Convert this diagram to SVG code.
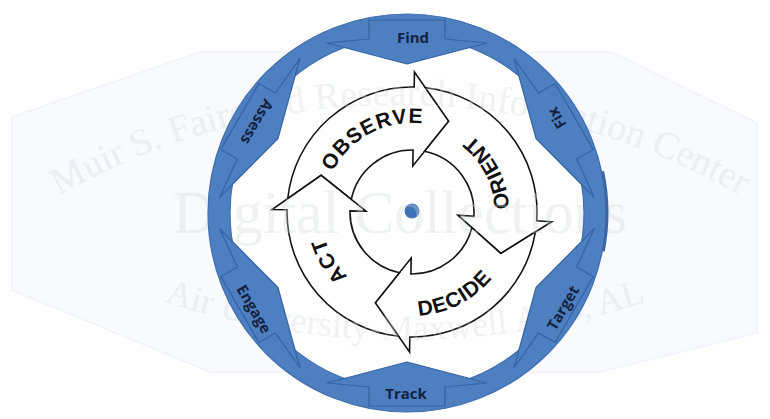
<svg xmlns="http://www.w3.org/2000/svg" width="770" height="419" viewBox="0 0 770 419">
<style>
.wm{font-family:"Liberation Serif","Times New Roman",serif;fill:#d3d7dc;opacity:.33}
.ring{fill:#4d7fc1;stroke:#3f6fb0;stroke-width:1.2}
.tab{fill:#4d7fc1;stroke:#3564a3;stroke-width:1.2;stroke-linejoin:round}
.lbl{font-family:"Open Sans","Liberation Sans",sans-serif;font-weight:700;font-size:15px;fill:#14223d;text-anchor:middle}
.arr{fill:#fff;stroke:#141414;stroke-width:1.6;stroke-linejoin:miter}
.ooda{font-family:"Liberation Sans",Arial,sans-serif;font-weight:700;font-size:21px;fill:#111;letter-spacing:1px}
</style>
<defs>
<polygon id="tabShape" points="-38,-193 38,-193 38,-174 80,-170 0,-149 -80,-170 -38,-174"/>
<path id="pObserve" d="M 329.48,178.66 A 89 89 0 0 1 430.50,124.94"/>
<path id="pOrient" d="M 506.70,233.00 A 97 97 0 0 0 449.12,122.38"/>
<path id="pDecide" d="M 389.14,313.46 A 104 104 0 0 0 507.94,252.13"/>
<path id="pAct" d="M 367.19,291.20 A 91 91 0 0 1 321.00,212.79"/>
<path id="pWmTop" d="M 60,195 A 687 687 0 0 1 740,195"/>
<path id="pWmBot" d="M 160,300 A 770 770 0 0 0 650,300"/>
</defs>
<rect width="770" height="419" fill="#ffffff"/>
<polygon points="12,117 200,52 612,52 757,123 757,333 600,372 210,372 12,290" fill="#f8fafd" stroke="#f0f4fa" stroke-width="1.5"/>
<circle cx="407" cy="213" r="178" fill="#ffffff"/>

<g id="ooda">
<g id="observe">
<path class="arr" d="M 287.72,198.61 A 125 125 0 0 1 414.18,87.02 L 414.44,72.02 L 448.71,121.14 L 412.80,166.01 L 413.08,150.01 A 62 62 0 0 0 351.29,199.43 L 321.14,175.29 Z"/>
<text class="ooda"><textPath href="#pObserve" startOffset="50%" text-anchor="middle">OBSERVE</textPath></text>
</g>
<g id="orient">
<path class="arr" d="M 425.39,87.72 A 125 125 0 0 1 536.70,220.72 L 551.66,221.77 L 500.82,253.42 L 457.89,215.21 L 473.85,216.32 A 62 62 0 0 0 424.57,151.29 L 448.71,121.14 Z"/>
<text class="ooda"><textPath href="#pOrient" startOffset="50%" text-anchor="middle">ORIENT</textPath></text>
</g>
<g id="decide">
<path class="arr" d="M 535.41,231.88 A 125 125 0 0 1 409.82,336.98 L 409.56,351.98 L 375.29,302.86 L 411.20,257.99 L 410.92,273.99 A 62 62 0 0 0 471.97,227.73 L 500.82,253.42 Z"/>
<text class="ooda"><textPath href="#pDecide" startOffset="50%" text-anchor="middle">DECIDE</textPath></text>
</g>
<g id="act">
<path class="arr" d="M 398.61,336.28 A 125 125 0 0 1 287.02,209.82 L 272.02,209.56 L 321.14,175.29 L 366.01,211.20 L 350.01,210.92 A 62 62 0 0 0 399.43,272.71 L 375.29,302.86 Z"/>
<text class="ooda"><textPath href="#pAct" startOffset="50%" text-anchor="middle">ACT</textPath></text>
</g>
<circle id="hub" cx="412" cy="211" r="7.5" fill="#3f73b8"/>
</g>

<g id="watermark">
<text class="wm" font-size="38"><textPath href="#pWmTop" startOffset="50%" text-anchor="middle">Muir S. Fairchild Research Information Center</textPath></text>
<text class="wm" x="400" y="233" font-size="62" text-anchor="middle" textLength="454" lengthAdjust="spacingAndGlyphs">Digital Collections</text>
<text class="wm" font-size="36"><textPath href="#pWmBot" startOffset="50%" text-anchor="middle">Air University-Maxwell AFB, AL</textPath></text>
</g>

<g id="ring">
<path class="ring" fill-rule="evenodd" d="M 208,213 A 199 199 0 1 0 606,213 A 199 199 0 1 0 208,213 Z M 230,213 A 177 177 0 1 1 584,213 A 177 177 0 1 1 230,213 Z"/>
<path d="M 602.6,171.4 A 200 200 0 0 1 603.3,251.2" fill="none" stroke="#3a67a3" stroke-width="3"/>
</g>

<g id="find">
<use href="#tabShape" class="tab" transform="translate(407,213)"/>
<text class="lbl" transform="translate(413,38)" y="5.3">Find</text>
</g>
<g id="fix">
<use href="#tabShape" class="tab" transform="translate(407,213) rotate(60)"/>
<text class="lbl" transform="translate(557,118) rotate(-120)" y="5.3">Fix</text>
</g>
<g id="target">
<use href="#tabShape" class="tab" transform="translate(407,213) rotate(120)"/>
<text class="lbl" transform="translate(563,308) rotate(-60)" y="5.3">Target</text>
</g>
<g id="track">
<use href="#tabShape" class="tab" transform="translate(407,213) rotate(180)"/>
<text class="lbl" transform="translate(406,393.5)" y="5.3">Track</text>
</g>
<g id="engage">
<use href="#tabShape" class="tab" transform="translate(407,213) rotate(240)"/>
<text class="lbl" transform="translate(254,309) rotate(60)" y="5.3">Engage</text>
</g>
<g id="assess">
<use href="#tabShape" class="tab" transform="translate(407,213) rotate(300)"/>
<text class="lbl" transform="translate(257,122) rotate(120)" y="5.3">Assess</text>
</g>
</svg>
